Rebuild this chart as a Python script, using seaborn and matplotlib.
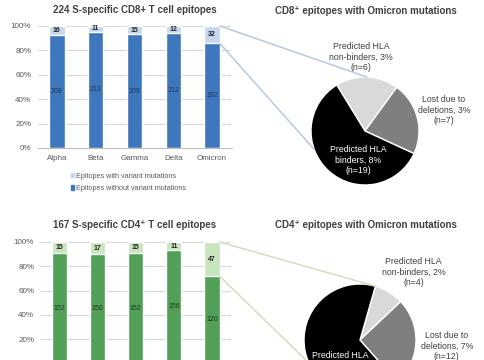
import numpy as np
import pandas as pd
import matplotlib
matplotlib.use("Agg")
import matplotlib.pyplot as plt
import seaborn as sns
from matplotlib.patches import ConnectionPatch, Patch

# data
variants = ["Alpha", "Beta", "Gamma", "Delta", "Omicron"]
cd8_with = [16, 11, 15, 12, 32]
cd8_without = [208, 213, 209, 212, 192]
cd4_with = [15, 17, 15, 11, 47]
cd4_without = [152, 150, 152, 156, 120]

pie_names = ["Predicted HLA\nnon-binders", "Lost due to\ndeletions", "Predicted HLA\nbinders"]
cd8_omicron = [6, 7, 19]
cd4_omicron = [4, 12, 31]

legend_labels = ["Epitopes with variant mutations", "Epitopes without variant mutations"]

sns.set_style("white")
plt.rcParams['font.family'] = ['Liberation Sans', 'DejaVu Sans']

blue_dark, blue_light = "#3f77bd", "#c6d8ee"
green_dark, green_light = "#52a058", "#c8e5bd"
pie_colors = ["#d9d9d9", "#7f7f7f", "#000000"]
title_col = "#404040"
tick_col = "#595959"

W, H = 485, 360
fig = plt.figure(figsize=(W / 100, H / 100), dpi=100)


def px(left, top, right, bottom):
    return [left / W, 1 - bottom / H, (right - left) / W, (bottom - top) / H]


def bar_panel(ax, with_mut, without_mut, dark, light, num_col, show_x=True):
    df = pd.DataFrame({"variant": variants, "with": with_mut, "without": without_mut})
    df["total"] = df["with"] + df["without"]
    df["full"] = df["total"] / df["total"]
    df["share"] = df["without"] / df["total"]
    sns.barplot(data=df, x="variant", y="full", color=light, width=0.4,
                saturation=1, ax=ax)
    sns.barplot(data=df, x="variant", y="share", color=dark, width=0.4,
                saturation=1, ax=ax)
    for i, row in df.iterrows():
        ax.text(i, (1 + row["share"]) / 2, str(row["with"]), ha="center",
                va="center", fontsize=5, color="#262626", fontweight="bold")
        ax.text(i, row["share"] / 2, str(row["without"]), ha="center",
                va="center", fontsize=5, color=num_col)
    ax.set_xlim(-0.5, 4.5)
    ax.set_ylim(0, 1)
    ticks = np.arange(0, 1.01, 0.2) if show_x else np.arange(0.2, 1.01, 0.2)
    ax.set_yticks(ticks)
    ax.set_yticklabels([f"{int(round(v * 100))}%" for v in ticks])
    ax.yaxis.grid(True, color="#d9d9d9", lw=0.8)
    ax.set_axisbelow(True)
    ax.set_xlabel("")
    ax.set_ylabel("")
    if not show_x:
        ax.set_xticklabels([])
    for s in ["top", "left", "right"]:
        ax.spines[s].set_visible(False)
    ax.spines["bottom"].set_color("#bfbfbf")
    ax.spines["bottom"].set_linewidth(0.8)
    ax.tick_params(axis="both", length=0, labelsize=5.8, colors=tick_col)
    ax.tick_params(axis="y", pad=4.5)
    ax.tick_params(axis="x", pad=5)


def pie_panel(ax, counts, total, start, pos):
    ax.pie(counts, colors=pie_colors, startangle=start, counterclock=False,
           wedgeprops=dict(edgecolor="white", linewidth=1))
    ax.set_xlim(-1, 1)
    ax.set_ylim(-1, 1)
    ax.set_aspect("equal")
    for i, (name, n) in enumerate(zip(pie_names, counts)):
        pct = round(n / total * 100)
        col = "white" if i == 2 else "#404040"
        ax.text(pos[i][0], pos[i][1], f"{name}, {pct}%\n(n={n})", ha="center",
                va="center", fontsize=6.3, color=col, linespacing=1.25,
                clip_on=False)


# CD8 panels
ax1 = fig.add_axes(px(37.5, 26, 231.5, 148))
bar_panel(ax1, cd8_with, cd8_without, blue_dark, blue_light, "#1f3860")
fig.text(134.5 / W, 1 - 10 / H, "224 S-specific CD8+ T cell epitopes", ha="center",
         va="center", fontsize=7, fontweight="bold", color=title_col)

ax2 = fig.add_axes(px(311, 77, 419, 185))
pie_panel(ax2, cd8_omicron, cd8_with[-1] + cd8_without[-1], 121.5,
          [(-0.07, 1.37), (1.46, 0.39), (-0.13, -0.54)])
fig.text(366 / W, 1 - 11 / H, "CD8⁺ epitopes with Omicron mutations", ha="center",
         va="center", fontsize=7, fontweight="bold", color=title_col)

fig.legend(handles=[Patch(color=blue_light, label=legend_labels[0]),
                    Patch(color=blue_dark, label=legend_labels[1])],
           loc="upper left", bbox_to_anchor=(67 / W, 1 - 169 / H),
           frameon=False, fontsize=5.2, handlelength=0.5, handleheight=0.5,
           handletextpad=0.25, borderpad=0, labelspacing=0.75,
           labelcolor=tick_col)

# CD4 panels (the bottom edge of the figure crops them)
ax3 = fig.add_axes(px(40.5, 242, 231, 363.5))
bar_panel(ax3, cd4_with, cd4_without, green_dark, green_light, "#1d3a1d", show_x=False)
fig.text(135 / W, 1 - 225 / H, "167 S-specific CD4⁺ T cell epitopes", ha="center",
         va="center", fontsize=7, fontweight="bold", color=title_col)

ax4 = fig.add_axes(px(304, 284, 416, 396))
pie_panel(ax4, cd4_omicron, cd4_with[-1] + cd4_without[-1], 74,
          [(0.96, 1.21), (1.55, -0.11), (-0.36, -0.46)])
fig.text(366 / W, 1 - 225 / H, "CD4⁺ epitopes with Omicron mutations", ha="center",
         va="center", fontsize=7, fontweight="bold", color=title_col)


# connector lines from the Omicron bar to the pies
def connect(ax_bar, ax_pie, share, a_top, a_low, col):
    for yb, ang in [(1.0, a_top), (share, a_low)]:
        t = np.deg2rad(ang)
        con = ConnectionPatch(xyA=(4.2, yb), coordsA=ax_bar.transData,
                              xyB=(np.cos(t), np.sin(t)), coordsB=ax_pie.transData,
                              color=col, lw=1.1)
        fig.add_artist(con)


connect(ax1, ax2, cd8_without[-1] / (cd8_with[-1] + cd8_without[-1]), 88, 200, "#b7c9dc")
connect(ax3, ax4, cd4_without[-1] / (cd4_with[-1] + cd4_without[-1]), 74, 204, "#cfdfbf")

fig.savefig("out.png", dpi=100)
